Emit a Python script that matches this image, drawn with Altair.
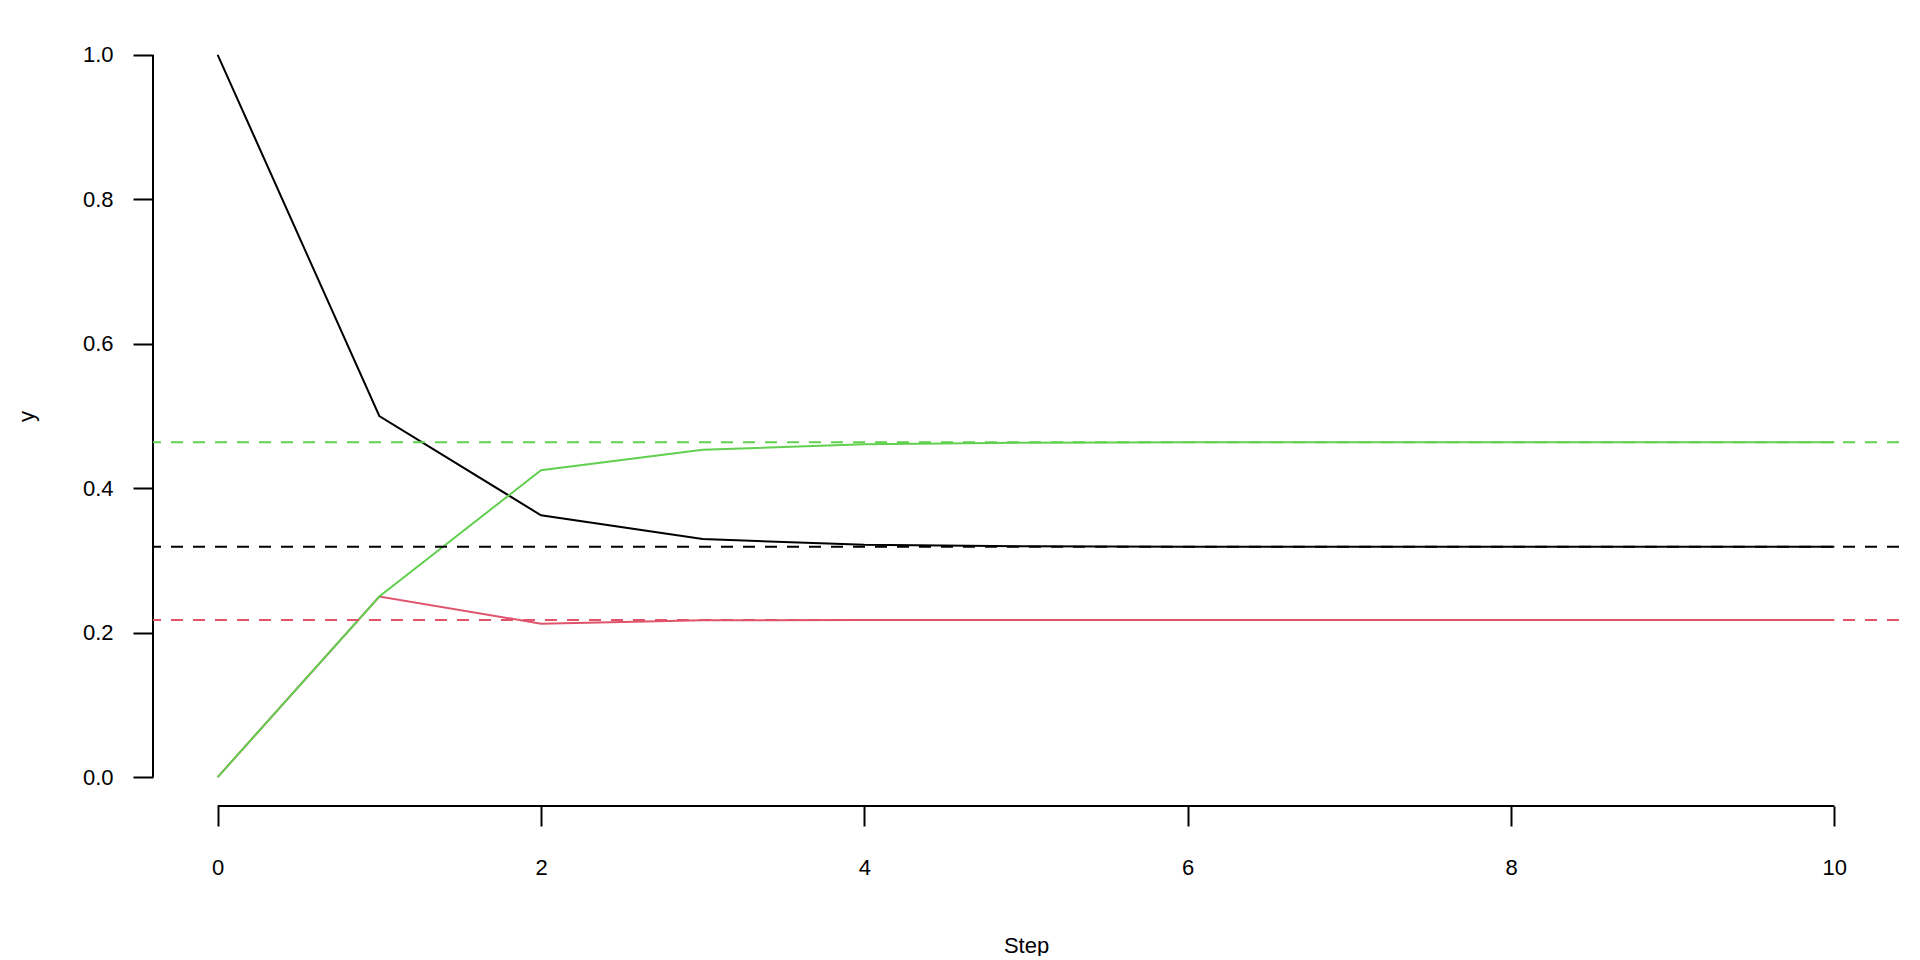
import altair as alt
import pandas as pd

steps = list(range(11))
black_vals = [1.0, 0.5, 0.3625, 0.3297, 0.3216, 0.3196, 0.3190, 0.3189, 0.3188, 0.3188, 0.3188]
red_vals = [0.0, 0.25, 0.2125, 0.2172, 0.2174, 0.2174, 0.2174, 0.2174, 0.2174, 0.2174, 0.2174]
green_vals = [0.0, 0.25, 0.425, 0.4531, 0.4610, 0.4630, 0.4636, 0.4637, 0.4638, 0.4638, 0.4638]
stationary = [0.3188, 0.2174, 0.4638]
colors = ["#000000", "#DF536B", "#61D04F"]
x_ticks = [0, 2, 4, 6, 8, 10]
y_ticks = [0.0, 0.2, 0.4, 0.6, 0.8, 1.0]
x_domain = [-0.4, 10.4]
y_domain = [-0.04, 1.04]

FONT = "Liberation Sans"
FS = 22

xscale = alt.Scale(domain=x_domain, nice=False, zero=False)
yscale = alt.Scale(domain=y_domain, nice=False, zero=False)

xaxis = alt.Axis(values=x_ticks, format="d", domain=False, grid=False, tickSize=20, tickWidth=2,
                 tickColor="black", labelFont=FONT, labelFontSize=FS, labelColor="black",
                 labelPadding=31, labelFlush=False, labelOverlap=False,
                 title="Step", titleFont=FONT, titleFontSize=FS, titleFontWeight="normal",
                 titleColor="black", titlePadding=57)
yaxis = alt.Axis(values=y_ticks, format=".1f", domain=False, grid=False, tickSize=20, tickWidth=2,
                 tickColor="black", labelFont=FONT, labelFontSize=FS, labelColor="black",
                 labelPadding=20, labelFlush=False, labelOverlap=False, labelBaseline="middle",
                 title="y", titleFont=FONT, titleFontSize=FS, titleFontWeight="normal",
                 titleColor="black", titlePadding=44)

series = [black_vals, red_vals, green_vals]
layers = []

# axes frame lines (R-style: span only tick range)
xline = pd.DataFrame({"x": [x_ticks[0]], "x2": [x_ticks[-1]], "y": [y_domain[0]]})
yline = pd.DataFrame({"y": [y_ticks[0]], "y2": [y_ticks[-1]], "x": [x_domain[0]]})

base_x = alt.Chart(xline).mark_rule(color="black", strokeWidth=2, clip=False).encode(
    x=alt.X("x:Q", scale=xscale, axis=xaxis), x2="x2:Q",
    y=alt.Y("y:Q", scale=yscale, axis=yaxis))
base_y = alt.Chart(yline).mark_rule(color="black", strokeWidth=2, clip=False).encode(
    x=alt.X("x:Q", scale=xscale), y=alt.Y("y:Q", scale=yscale), y2="y2:Q")
layers += [base_x, base_y]

for vals, col in zip(series, colors):
    df = pd.DataFrame({"step": steps, "value": vals})
    layers.append(alt.Chart(df).mark_line(color=col, strokeWidth=2).encode(
        x=alt.X("step:Q", scale=xscale), y=alt.Y("value:Q", scale=yscale)))

for s, col in zip(stationary, colors):
    df = pd.DataFrame({"value": [s]})
    layers.append(alt.Chart(df).mark_rule(color=col, strokeWidth=2, strokeDash=[12, 10]).encode(
        y=alt.Y("value:Q", scale=yscale)))

chart = alt.layer(*layers).properties(
    width=1746, height=780,
    background="white",
    autosize=alt.AutoSizeParams(type="none"),
    padding={"left": 145, "top": 18, "right": 10, "bottom": 150},
).configure_view(strokeWidth=0, stroke=None)

chart.save("out.html", embed_options={"renderer": "svg", "actions": False})
